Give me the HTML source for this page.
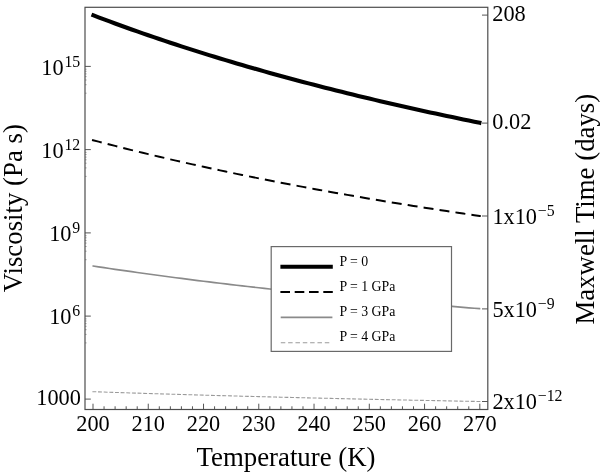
<!DOCTYPE html>
<html lang="en"><head><meta charset="utf-8"><title>Viscosity vs Temperature</title>
<style>html,body{margin:0;padding:0;background:#fff}body{width:600px;height:472px;overflow:hidden}svg{display:block}text{font-family:"Liberation Serif","Times New Roman",Times,serif;fill:#000}</style>
</head><body>
<svg width="600" height="472" viewBox="0 0 600 472">
<rect x="0" y="0" width="600" height="472" fill="#fff"/>
<path d="M92.40,391.68 L93.00,391.70 L98.53,391.89 L104.05,392.07 L109.58,392.26 L115.10,392.44 L120.63,392.62 L126.16,392.80 L131.68,392.98 L137.21,393.15 L142.73,393.33 L148.26,393.50 L153.79,393.67 L159.31,393.84 L164.84,394.01 L170.36,394.17 L175.89,394.34 L181.42,394.50 L186.94,394.66 L192.47,394.82 L197.99,394.98 L203.52,395.14 L209.05,395.29 L214.57,395.45 L220.10,395.60 L225.62,395.75 L231.15,395.90 L236.68,396.05 L242.20,396.20 L247.73,396.34 L253.25,396.49 L258.78,396.63 L264.31,396.77 L269.83,396.91 L275.36,397.05 L280.88,397.19 L286.41,397.33 L291.94,397.47 L297.46,397.60 L302.99,397.74 L308.51,397.87 L314.04,398.00 L319.57,398.13 L325.09,398.26 L330.62,398.39 L336.14,398.52 L341.67,398.64 L347.20,398.77 L352.72,398.89 L358.25,399.02 L363.77,399.14 L369.30,399.26 L374.83,399.38 L380.35,399.50 L385.88,399.62 L391.40,399.74 L396.93,399.85 L402.46,399.97 L407.98,400.08 L413.51,400.20 L419.03,400.31 L424.56,400.42 L430.09,400.53 L435.61,400.65 L441.14,400.75 L446.66,400.86 L452.19,400.97 L457.72,401.08 L463.24,401.19 L468.77,401.29 L474.29,401.40 L479.82,401.50 L480.42,401.51" fill="none" stroke="#9a9a9a" stroke-width="1.1" stroke-dasharray="3.9 1.75"/>
<path d="M92.51,265.92 L93.00,266.00 L98.53,266.84 L104.05,267.67 L109.58,268.50 L115.10,269.31 L120.63,270.12 L126.16,270.92 L131.68,271.71 L137.21,272.49 L142.73,273.26 L148.26,274.02 L153.79,274.78 L159.31,275.53 L164.84,276.27 L170.36,277.00 L175.89,277.73 L181.42,278.44 L186.94,279.16 L192.47,279.86 L197.99,280.56 L203.52,281.25 L209.05,281.93 L214.57,282.60 L220.10,283.27 L225.62,283.94 L231.15,284.59 L236.68,285.24 L242.20,285.89 L247.73,286.53 L253.25,287.16 L258.78,287.78 L264.31,288.40 L269.83,289.02 L275.36,289.62 L280.88,290.23 L286.41,290.82 L291.94,291.41 L297.46,292.00 L302.99,292.58 L308.51,293.16 L314.04,293.73 L319.57,294.29 L325.09,294.85 L330.62,295.40 L336.14,295.95 L341.67,296.50 L347.20,297.04 L352.72,297.57 L358.25,298.10 L363.77,298.63 L369.30,299.15 L374.83,299.67 L380.35,300.18 L385.88,300.69 L391.40,301.19 L396.93,301.69 L402.46,302.19 L407.98,302.68 L413.51,303.16 L419.03,303.65 L424.56,304.13 L430.09,304.60 L435.61,305.07 L441.14,305.54 L446.66,306.00 L452.19,306.46 L457.72,306.91 L463.24,307.37 L468.77,307.81 L474.29,308.26 L479.82,308.70 L480.32,308.74" fill="none" stroke="#8a8a8a" stroke-width="1.7"/>
<path d="M92.03,139.95 L93.00,140.20 L98.53,141.65 L104.05,143.09 L109.58,144.52 L115.10,145.93 L120.63,147.33 L126.16,148.72 L131.68,150.09 L137.21,151.45 L142.73,152.79 L148.26,154.12 L153.79,155.44 L159.31,156.75 L164.84,158.04 L170.36,159.33 L175.89,160.60 L181.42,161.86 L186.94,163.10 L192.47,164.34 L197.99,165.57 L203.52,166.78 L209.05,167.98 L214.57,169.17 L220.10,170.35 L225.62,171.53 L231.15,172.69 L236.68,173.84 L242.20,174.98 L247.73,176.11 L253.25,177.23 L258.78,178.34 L264.31,179.44 L269.83,180.53 L275.36,181.61 L280.88,182.68 L286.41,183.74 L291.94,184.80 L297.46,185.84 L302.99,186.88 L308.51,187.91 L314.04,188.93 L319.57,189.94 L325.09,190.94 L330.62,191.94 L336.14,192.92 L341.67,193.90 L347.20,194.87 L352.72,195.83 L358.25,196.79 L363.77,197.73 L369.30,198.67 L374.83,199.61 L380.35,200.53 L385.88,201.45 L391.40,202.36 L396.93,203.26 L402.46,204.16 L407.98,205.05 L413.51,205.93 L419.03,206.80 L424.56,207.67 L430.09,208.53 L435.61,209.39 L441.14,210.24 L446.66,211.08 L452.19,211.91 L457.72,212.74 L463.24,213.57 L468.77,214.38 L474.29,215.19 L479.82,216.00 L480.81,216.14" fill="none" stroke="#000" stroke-width="1.95" stroke-dasharray="10 6.12"/>
<path d="M91.50,14.63 L93.00,15.20 L98.53,17.30 L104.05,19.38 L109.58,21.44 L115.10,23.48 L120.63,25.49 L126.16,27.49 L131.68,29.46 L137.21,31.42 L142.73,33.35 L148.26,35.26 L153.79,37.16 L159.31,39.03 L164.84,40.89 L170.36,42.73 L175.89,44.55 L181.42,46.35 L186.94,48.14 L192.47,49.90 L197.99,51.65 L203.52,53.39 L209.05,55.10 L214.57,56.80 L220.10,58.48 L225.62,60.15 L231.15,61.80 L236.68,63.44 L242.20,65.06 L247.73,66.67 L253.25,68.26 L258.78,69.83 L264.31,71.40 L269.83,72.94 L275.36,74.48 L280.88,76.00 L286.41,77.50 L291.94,78.99 L297.46,80.47 L302.99,81.94 L308.51,83.39 L314.04,84.83 L319.57,86.26 L325.09,87.67 L330.62,89.07 L336.14,90.46 L341.67,91.84 L347.20,93.21 L352.72,94.56 L358.25,95.91 L363.77,97.24 L369.30,98.56 L374.83,99.87 L380.35,101.17 L385.88,102.45 L391.40,103.73 L396.93,105.00 L402.46,106.25 L407.98,107.50 L413.51,108.73 L419.03,109.96 L424.56,111.17 L430.09,112.38 L435.61,113.57 L441.14,114.76 L446.66,115.93 L452.19,117.10 L457.72,118.26 L463.24,119.41 L468.77,120.55 L474.29,121.68 L479.82,122.80 L481.39,123.12" fill="none" stroke="#000" stroke-width="4.1"/>
<rect x="85.0" y="7.3" width="402.8" height="402.2" fill="none" stroke="#4d4d4d" stroke-width="1.2"/>
<path d="M93.00,409.5 v-5.8 M104.05,409.5 v-3.2 M115.10,409.5 v-3.2 M126.16,409.5 v-3.2 M137.21,409.5 v-3.2 M148.26,409.5 v-5.8 M159.31,409.5 v-3.2 M170.36,409.5 v-3.2 M181.42,409.5 v-3.2 M192.47,409.5 v-3.2 M203.52,409.5 v-5.8 M214.57,409.5 v-3.2 M225.62,409.5 v-3.2 M236.68,409.5 v-3.2 M247.73,409.5 v-3.2 M258.78,409.5 v-5.8 M269.83,409.5 v-3.2 M280.88,409.5 v-3.2 M291.94,409.5 v-3.2 M302.99,409.5 v-3.2 M314.04,409.5 v-5.8 M325.09,409.5 v-3.2 M336.14,409.5 v-3.2 M347.20,409.5 v-3.2 M358.25,409.5 v-3.2 M369.30,409.5 v-5.8 M380.35,409.5 v-3.2 M391.40,409.5 v-3.2 M402.46,409.5 v-3.2 M413.51,409.5 v-3.2 M424.56,409.5 v-5.8 M435.61,409.5 v-3.2 M446.66,409.5 v-3.2 M457.72,409.5 v-3.2 M468.77,409.5 v-3.2 M479.82,409.5 v-5.8" fill="none" stroke="#4d4d4d" stroke-width="0.95"/>
<path d="M85.0,66.4 h5.8 M85.0,149.6 h5.8 M85.0,232.9 h5.8 M85.0,316.1 h5.8 M85.0,399.1 h5.8" fill="none" stroke="#4d4d4d" stroke-width="0.95"/>
<path d="M85.0,69.2 h1.5 M85.0,71.3 h1.5 M85.0,73.9 h1.5 M85.0,76.6 h1.5 M85.0,80.0 h1.5 M85.0,84.7 h1.5 M85.0,93.2 h1.5 M85.0,152.4 h1.5 M85.0,154.5 h1.5 M85.0,157.1 h1.5 M85.0,159.8 h1.5 M85.0,163.2 h1.5 M85.0,167.9 h1.5 M85.0,176.4 h1.5 M85.0,235.7 h1.5 M85.0,237.8 h1.5 M85.0,240.4 h1.5 M85.0,243.1 h1.5 M85.0,246.5 h1.5 M85.0,251.2 h1.5 M85.0,259.7 h1.5 M85.0,318.9 h1.5 M85.0,321.0 h1.5 M85.0,323.6 h1.5 M85.0,326.3 h1.5 M85.0,329.7 h1.5 M85.0,334.4 h1.5 M85.0,342.9 h1.5" fill="none" stroke="#666" stroke-width="0.7"/>
<path d="M487.8,15.1 h-5.8 M487.8,123.1 h-5.8 M487.8,216.0 h-5.8 M487.8,308.9 h-5.8 M487.8,401.5 h-5.8" fill="none" stroke="#4d4d4d" stroke-width="0.95"/>
<text x="93.00" y="430.5" font-size="22.3" text-anchor="middle">200</text>
<text x="148.26" y="430.5" font-size="22.3" text-anchor="middle">210</text>
<text x="203.52" y="430.5" font-size="22.3" text-anchor="middle">220</text>
<text x="258.78" y="430.5" font-size="22.3" text-anchor="middle">230</text>
<text x="314.04" y="430.5" font-size="22.3" text-anchor="middle">240</text>
<text x="369.30" y="430.5" font-size="22.3" text-anchor="middle">250</text>
<text x="424.56" y="430.5" font-size="22.3" text-anchor="middle">260</text>
<text x="479.82" y="430.5" font-size="22.3" text-anchor="middle">270</text>
<text x="80.2" y="74.7" font-size="22.3" text-anchor="end">10<tspan font-size="15.8" dy="-8.1" dx="0.8">15</tspan></text>
<text x="80.2" y="157.9" font-size="22.3" text-anchor="end">10<tspan font-size="15.8" dy="-8.1" dx="0.8">12</tspan></text>
<text x="80.2" y="241.2" font-size="22.3" text-anchor="end">10<tspan font-size="15.8" dy="-8.1" dx="0.8">9</tspan></text>
<text x="80.2" y="324.4" font-size="22.3" text-anchor="end">10<tspan font-size="15.8" dy="-8.1" dx="0.8">6</tspan></text>
<text x="80.9" y="404.7" font-size="22.3" text-anchor="end">1000</text>
<text x="492.3" y="20.6" font-size="22.3">208</text>
<text x="492.3" y="128.6" font-size="22.3">0.02</text>
<text x="492.4" y="223.9" font-size="22.3">1x10<tspan font-size="15.8" dy="-8.0" dx="0.8">−5</tspan></text>
<text x="492.4" y="316.8" font-size="22.3">5x10<tspan font-size="15.8" dy="-8.0" dx="0.8">−9</tspan></text>
<text x="492.4" y="409.4" font-size="22.3">2x10<tspan font-size="15.8" dy="-8.0" dx="0.8">−12</tspan></text>
<text x="286.0" y="465.7" font-size="26.8" text-anchor="middle">Temperature (K)</text>
<text transform="translate(21.8,208.2) rotate(-90)" font-size="26.8" text-anchor="middle">Viscosity (Pa s)</text>
<text transform="translate(593.9,209.2) rotate(-90)" font-size="26.8" text-anchor="middle">Maxwell Time (days)</text>
<rect x="271.2" y="246.6" width="180.3" height="104.8" fill="#fff" stroke="#696969" stroke-width="1.2"/>
<path d="M280.4,266.8 H332.8" stroke="#000" stroke-width="4.1" fill="none"/>
<path d="M280.4,292 H332.8" stroke="#000" stroke-width="2.1" stroke-dasharray="9.6 4.7" fill="none"/>
<path d="M280.7,317.3 H332.4" stroke="#8a8a8a" stroke-width="1.7" fill="none"/>
<path d="M280.8,342.7 H329.7" stroke="#9a9a9a" stroke-width="1.15" stroke-dasharray="4.5 2.83" fill="none"/>
<text x="339.4" y="265.9" font-size="13.8">P = 0</text>
<text x="339.4" y="291.2" font-size="13.8">P = 1 GPa</text>
<text x="339.4" y="316.4" font-size="13.8">P = 3 GPa</text>
<text x="339.4" y="341.4" font-size="13.8">P = 4 GPa</text>
</svg></body></html>
